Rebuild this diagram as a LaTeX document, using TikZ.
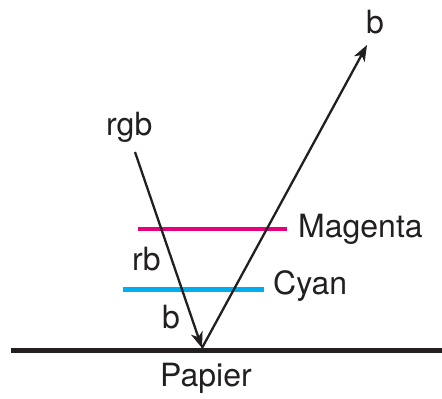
\documentclass[tikz,border=0pt]{standalone}
\usepackage{fontspec}
\setmainfont{TeX Gyre Heros}
\usetikzlibrary{arrows.meta}
\definecolor{mag}{HTML}{E6007E}
\definecolor{cya}{HTML}{00AEEF}
\definecolor{ink}{HTML}{231F20}
\tikzset{
  lbl/.style={inner sep=0pt, anchor=base west, font=\fontsize{32}{37}\selectfont, text=ink},
  ray/.style={line width=2.3pt, draw=ink, -{Stealth[length=16pt,width=12pt,inset=4.5pt]}},
  filter/.style={line width=4.5pt},
}
\begin{document}
\begin{tikzpicture}[x=1pt,y=-1pt]
\useasboundingbox (0,0) rectangle (442,399);
% paper
\coordinate (pl) at (11,350.5);
\coordinate (pr) at (442,350.5);
\draw[line width=5pt, draw=ink] (pl) -- (pr);
% filters
\coordinate (m1) at (138,229);
\coordinate (m2) at (287,229);
\draw[filter, draw=mag] (m1) -- (m2);
\coordinate (c1) at (123,289.5);
\coordinate (c2) at (264,289.5);
\draw[filter, draw=cya] (c1) -- (c2);
% rays
\coordinate (src) at (135,152);
\coordinate (hit) at (202,348);
\coordinate (out) at (367,45);
\draw[ray] (src) -- (hit);
\draw[ray] (hit) -- (out);
% labels
\node[lbl] (lrgb) at (106,135) {rgb};
\node[lbl] (lbtop) at (366,33) {b};
\node[lbl] (lmag) at (298,237) {Magenta};
\node[lbl] (lrb) at (132,270) {rb};
\node[lbl] (lcyan) at (273,294) {Cyan};
\node[lbl] (lb) at (162,328) {b};
\node[lbl] (lpap) at (160,386) {Papier};
\end{tikzpicture}
\end{document}
